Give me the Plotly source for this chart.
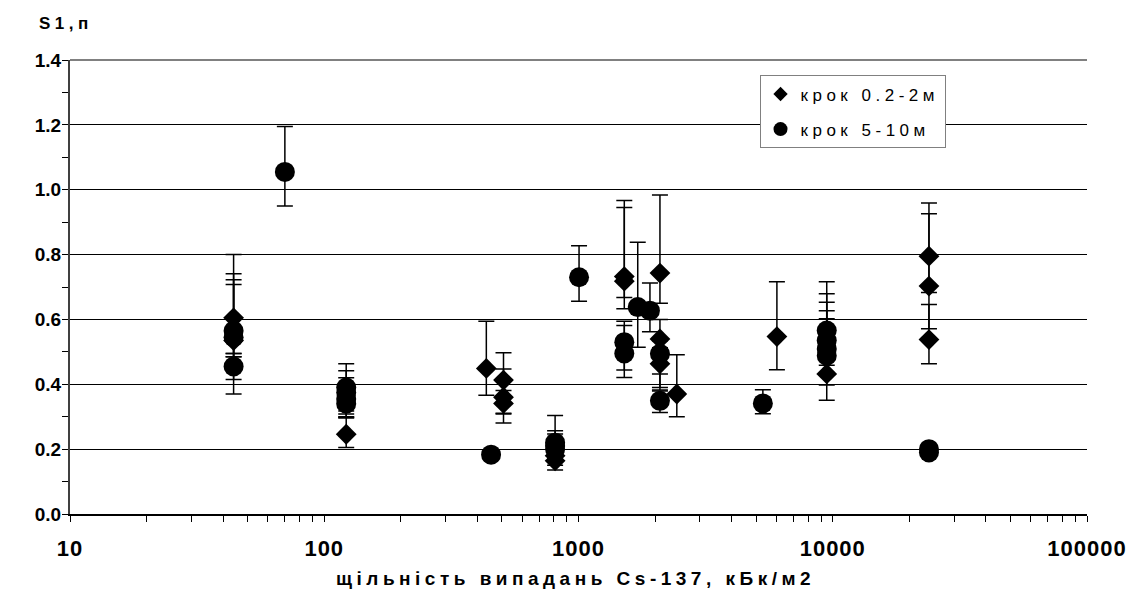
import plotly.graph_objects as go

# series 1: крок 0.2-2м (diamonds)
d_x = [44, 44, 122, 434, 507, 507, 507, 809, 809, 1514, 1514, 2091, 2091, 2091, 2436, 6030, 9470, 23900, 23900, 23900]
d_y = [0.605, 0.535, 0.246, 0.449, 0.413, 0.36, 0.341, 0.164, 0.18, 0.732, 0.718, 0.743, 0.54, 0.463, 0.37, 0.547, 0.432, 0.795, 0.703, 0.538]
d_up = [0.195, 0.187, 0.05, 0.145, 0.084, 0.087, 0.04, 0.14, 0.077, 0.235, 0.227, 0.241, 0.06, 0.05, 0.121, 0.169, 0.17, 0.164, 0.223, 0.108]
d_dn = [0.12, 0.165, 0.041, 0.083, 0.105, 0.079, 0.03, 0.028, 0.03, 0.064, 0.085, 0.093, 0.108, 0.073, 0.07, 0.102, 0.081, 0.112, 0.132, 0.075]

# series 2: крок 5-10м (circles)
c_x = [44, 44, 44, 70, 122, 122, 122, 122, 453, 809, 809, 809, 1005, 1514, 1514, 1710, 1910, 2091, 2091, 5310, 9470, 9470, 9470, 9470, 23900, 23900]
c_y = [0.565, 0.545, 0.455, 1.055, 0.39, 0.375, 0.355, 0.34, 0.183, 0.22, 0.20, 0.21, 0.73, 0.53, 0.495, 0.638, 0.627, 0.494, 0.349, 0.341, 0.566, 0.535, 0.509, 0.488, 0.20, 0.19]
c_up = [0.176, 0.163, 0.04, 0.14, 0.073, 0.067, 0.065, 0.04, 0.015, 0.027, 0.03, 0.02, 0.097, 0.064, 0.086, 0.2, 0.085, 0.04, 0.03, 0.042, 0.15, 0.144, 0.144, 0.139, 0.01, 0.01]
c_dn = [0.07, 0.06, 0.04, 0.105, 0.072, 0.067, 0.057, 0.04, 0.015, 0.03, 0.03, 0.02, 0.074, 0.086, 0.074, 0.124, 0.065, 0.112, 0.036, 0.032, 0.05, 0.05, 0.05, 0.09, 0.01, 0.01]

series_names = ["крок 0.2-2м", "крок 5-10м"]
x_tickvals = [10, 100, 1000, 10000, 100000]
x_ticktext = ["10", "100", "1000", "10000", "100000"]
y_tickvals = [0.0, 0.2, 0.4, 0.6, 0.8, 1.0, 1.2, 1.4]
x_title = "щільність випадань Cs-137, кБк/м2"
y_title = "S1,п"

FONT = "Liberation Sans, Arial, sans-serif"
FONT2 = "Liberation Sans, Arial, Helvetica"

# minor ticks on the log axis: 2..9 in every decade
x_minor = [k * 10 ** e for e in range(1, 5) for k in range(2, 10)]

def errs(up, dn):
    return dict(type="data", symmetric=False, array=up, arrayminus=dn,
                color="black", thickness=1.5, width=8)

fig = go.Figure()
fig.add_trace(go.Scatter(
    x=d_x, y=d_y, mode="markers", showlegend=False,
    marker=dict(symbol="diamond", size=16, color="black", line=dict(width=0)),
    error_y=errs(d_up, d_dn)))
fig.add_trace(go.Scatter(
    x=c_x, y=c_y, mode="markers", showlegend=False,
    marker=dict(symbol="circle", size=20, color="black", line=dict(width=0)),
    error_y=errs(c_up, c_dn)))
# legend entries
fig.add_trace(go.Scatter(
    x=[None], y=[None], mode="markers", name=series_names[0], legendgroup="a",
    marker=dict(symbol="diamond", size=11, color="black")))
fig.add_trace(go.Scatter(
    x=[None], y=[None], mode="markers", name=series_names[1], legendgroup="b",
    marker=dict(symbol="circle", size=14, color="black")))

fig.update_layout(
    width=1137, height=614,
    margin=dict(l=70, r=50, t=60, b=100),
    paper_bgcolor="white", plot_bgcolor="white",
    font=dict(family=FONT, color="black"),
    showlegend=True,
    legend=dict(x=0.678, y=0.966, xanchor="left", yanchor="top",
                bgcolor="white", bordercolor="#808080", borderwidth=1,
                font=dict(size=17, family=FONT, color="black"),
                traceorder="grouped", tracegroupgap=10,
                itemwidth=30),
    xaxis=dict(type="log", range=[1, 5], tickvals=x_tickvals, ticktext=x_ticktext,
               ticks="outside", ticklen=6, tickwidth=1, tickcolor="black",
               showline=True, linecolor="black", linewidth=1.5,
               showgrid=False, zeroline=False,
               tickfont=dict(size=22, family=FONT, weight="bold"),
               ticklabelstandoff=8,
               minor=dict(tickmode="array", tickvals=x_minor, ticks="outside",
                          ticklen=6, tickwidth=1, tickcolor="black", showgrid=False)),
    yaxis=dict(range=[0, 1.4], tickvals=y_tickvals, tickformat=".1f",
               ticks="outside", ticklen=6, tickwidth=1, tickcolor="black",
               showline=True, linecolor="#404040", linewidth=2,
               showgrid=True, gridcolor="black", gridwidth=1,
               zeroline=False,
               tickfont=dict(size=19, family=FONT, weight="bold"),
               ticklabelstandoff=-3,
               minor=dict(dtick=0.1, ticks="outside", ticklen=6, tickwidth=1,
                          tickcolor="black", showgrid=False)),
    annotations=[
        dict(text=y_title, xref="paper", yref="paper", x=-0.032, y=1.081,
             xanchor="left", yanchor="middle", showarrow=False,
             font=dict(size=17, family=FONT, weight="bold")),
        dict(text=x_title, xref="paper", yref="paper", x=0.497, y=-0.141,
             xanchor="center", yanchor="middle", showarrow=False,
             font=dict(size=19, family=FONT, weight="bold")),
    ],
    shapes=[dict(type="line", xref="paper", yref="paper", x0=0, x1=1, y0=1, y1=1,
                 line=dict(color="#808080", width=2))],
)

post = """
var gd = document.getElementById('{plot_id}');
var st = document.createElement('style');
st.textContent = 'text.legendtext{letter-spacing:4.5px;} g.xtick text{letter-spacing:1px;} '
  + 'text.annotation-text{letter-spacing:4.5px;}';
document.head.appendChild(st);
var F2 = '""" + FONT2 + """';
Plotly.relayout(gd, {'legend.font.family': F2,
                     'annotations[0].font.family': F2,
                     'annotations[1].font.family': F2});
"""

fig.write_html("out.html", post_script=post)
